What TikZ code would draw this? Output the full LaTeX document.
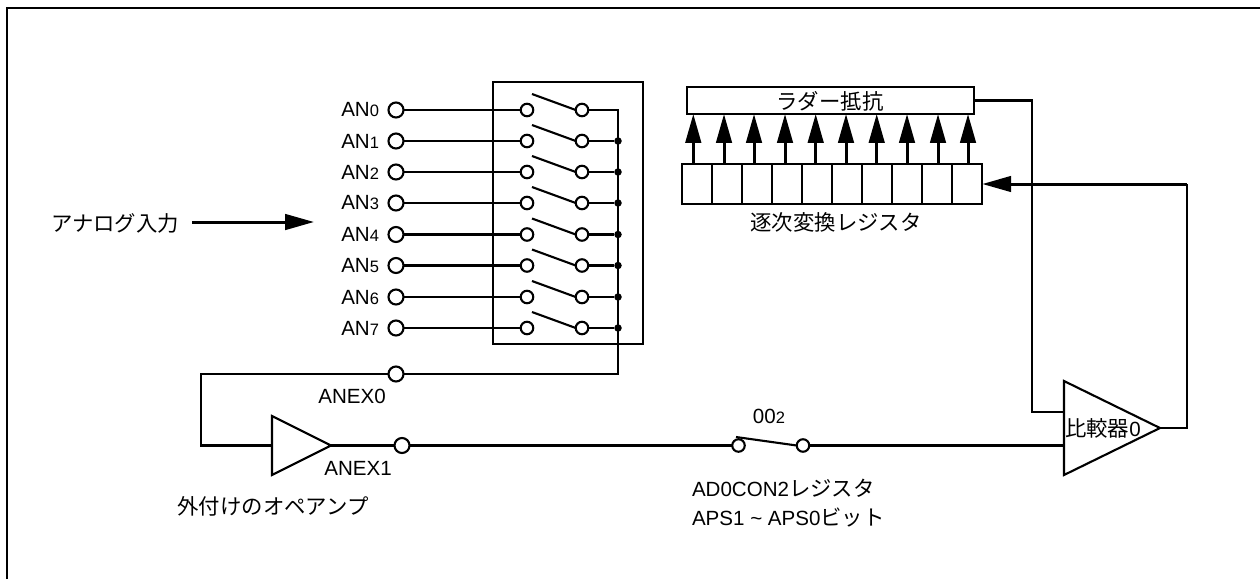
\documentclass[tikz,border=0pt]{standalone}
\usepackage{fontspec}
\setmainfont{Liberation Sans}
\newfontfamily\cjk[Scale=1.04]{Noto Sans CJK JP}
\usetikzlibrary{shapes.geometric, arrows.meta, positioning, calc}
\newcommand{\lowdigit}[1]{{\fontsize{9.4}{10}\selectfont #1}}

\begin{document}
\begin{tikzpicture}[
    x=0.02cm, y=-0.02cm,
    every node/.style={inner sep=0pt, outer sep=0pt},
    every text node part/.style={align=left},
    label/.style={font=\fontsize{11.7}{16}\selectfont},
    wire/.style={draw=black, line width=1.2pt},
    frameline/.style={draw=black, line width=1.6pt},
    term/.style={circle, draw=black, line width=1.2pt, fill=white, minimum size=0.3cm},
    swpin/.style={circle, draw=black, line width=1.2pt, fill=white, minimum size=0.25cm},
    dot/.style={circle, fill=black, minimum size=0.15cm},
    blockbox/.style={draw=black, line width=1.2pt, fill=white},
    cell/.style={blockbox, minimum width=0.6cm, minimum height=0.8cm},
    tapearrow/.style={wire, line width=1.7pt, -{Triangle[length=16.4pt, width=8.8pt]}},
    amp/.style={isosceles triangle, isosceles triangle stretches, shape border rotate=0, draw=black, line width=1.2pt, fill=white}
]
\useasboundingbox (0,0) rectangle (1260,579);

% Frame
\draw[frameline] (7,579) -- (7,8) -- (1260,8);

% Analog input
\node[label] (inlabel) at (115,223) {\cjk アナログ入力};
\coordinate (instart) at (192,222);
\coordinate (inend) at (314,222);
\draw[tapearrow] (instart) -- (inend);

% Switch box
\node[blockbox, minimum width=3cm, minimum height=5.24cm] (swbox) at (568,213) {};

% AN0
\node[label, anchor=east] (an0label) at (379,110) {AN\lowdigit{0}};
\node[term] (an0) at (396,110) {};
\node[swpin] (sw0l) at (527,110) {};
\node[swpin] (sw0r) at (582,110) {};
\coordinate (sw0b) at (532,94);
\draw[wire] (an0) -- (sw0l);
\draw[wire] (sw0b) -- (sw0r.west);

% AN1
\node[label, anchor=east] (an1label) at (379,141) {AN\lowdigit{1}};
\node[term] (an1) at (396,141) {};
\node[swpin] (sw1l) at (527,141) {};
\node[swpin] (sw1r) at (582,141) {};
\node[dot] (dot1) at (618,141) {};
\coordinate (sw1b) at (532,125);
\draw[wire] (an1) -- (sw1l);
\draw[wire] (sw1b) -- (sw1r.west);
\draw[wire] (sw1r) -- (dot1);

% AN2
\node[label, anchor=east] (an2label) at (379,172) {AN\lowdigit{2}};
\node[term] (an2) at (396,172) {};
\node[swpin] (sw2l) at (527,172) {};
\node[swpin] (sw2r) at (582,172) {};
\node[dot] (dot2) at (618,172) {};
\coordinate (sw2b) at (532,156);
\draw[wire] (an2) -- (sw2l);
\draw[wire] (sw2b) -- (sw2r.west);
\draw[wire] (sw2r) -- (dot2);

% AN3
\node[label, anchor=east] (an3label) at (379,203) {AN\lowdigit{3}};
\node[term] (an3) at (396,203) {};
\node[swpin] (sw3l) at (527,203) {};
\node[swpin] (sw3r) at (582,203) {};
\node[dot] (dot3) at (618,203) {};
\coordinate (sw3b) at (532,187);
\draw[wire] (an3) -- (sw3l);
\draw[wire] (sw3b) -- (sw3r.west);
\draw[wire] (sw3r) -- (dot3);

% AN4
\node[label, anchor=east] (an4label) at (379,234.5) {AN\lowdigit{4}};
\node[term] (an4) at (396,234.5) {};
\node[swpin] (sw4l) at (527,234.5) {};
\node[swpin] (sw4r) at (582,234.5) {};
\node[dot] (dot4) at (618,234.5) {};
\coordinate (sw4b) at (532,218.5);
\draw[wire] (an4) -- (sw4l);
\draw[wire] (sw4b) -- (sw4r.west);
\draw[wire] (sw4r) -- (dot4);

% AN5
\node[label, anchor=east] (an5label) at (379,265.5) {AN\lowdigit{5}};
\node[term] (an5) at (396,265.5) {};
\node[swpin] (sw5l) at (527,265.5) {};
\node[swpin] (sw5r) at (582,265.5) {};
\node[dot] (dot5) at (618,265.5) {};
\coordinate (sw5b) at (532,249.5);
\draw[wire] (an5) -- (sw5l);
\draw[wire] (sw5b) -- (sw5r.west);
\draw[wire] (sw5r) -- (dot5);

% AN6
\node[label, anchor=east] (an6label) at (379,297) {AN\lowdigit{6}};
\node[term] (an6) at (396,297) {};
\node[swpin] (sw6l) at (527,297) {};
\node[swpin] (sw6r) at (582,297) {};
\node[dot] (dot6) at (618,297) {};
\coordinate (sw6b) at (532,281);
\draw[wire] (an6) -- (sw6l);
\draw[wire] (sw6b) -- (sw6r.west);
\draw[wire] (sw6r) -- (dot6);

% AN7
\node[label, anchor=east] (an7label) at (379,328) {AN\lowdigit{7}};
\node[term] (an7) at (396,328) {};
\node[swpin] (sw7l) at (527,328) {};
\node[swpin] (sw7r) at (582,328) {};
\node[dot] (dot7) at (618,328) {};
\coordinate (sw7b) at (532,312);
\draw[wire] (an7) -- (sw7l);
\draw[wire] (sw7b) -- (sw7r.west);
\draw[wire] (sw7r) -- (dot7);

% ANEX0 and the loop to the op-amp
\node[term] (anex0) at (396,374) {};
\node[label] (anex0label) at (352,396) {ANEX0};
\coordinate (busend) at (618,374);
\coordinate (loopcorner) at (201,374);
\node[amp, anchor=lower side, minimum width=1.18cm, minimum height=1.18cm] (opamp) at (272,445.5) {};
\draw[wire] (sw0r) -| (busend) -- (anex0);
\draw[wire] (anex0) -- (loopcorner) |- (opamp.lower side);

% ANEX1 and the external op-amp
\node[term] (anex1) at (402,445.5) {};
\node[label] (anex1label) at (358,468) {ANEX1};
\node[label] (opamplabel) at (273,506) {\cjk 外付けのオペアンプ};
\draw[wire] (opamp.apex) -- (anex1);

% Selector switch
\node[swpin] (selL) at (738.5,445.5) {};
\node[swpin] (selR) at (803,445.5) {};
\coordinate (selB) at (736,437);
\node[label] (sellabel) at (769,416) {00\lowdigit{2}};
\node[label, anchor=west] (reglabel) at (692,488.5) {AD0CON2{\cjk レジスタ}};
\node[label, anchor=west] (bitlabel) at (692,517) {APS1 \textasciitilde{} APS0{\cjk ビット}};
\draw[wire] (anex1) -- (selL);
\draw[wire] (selB) -- (selR.west);

% Comparator
\node[amp, anchor=lower side, minimum width=1.88cm, minimum height=1.92cm] (cmp) at (1064,428) {};
\node[label] (cmplabel) at (1103,428) {\cjk 比較器{\fontspec{Liberation Sans}0}};
\draw[wire] (selR) -- (selR -| cmp.lower side);

% Ladder resistor
\node[blockbox, minimum width=5.74cm, minimum height=0.54cm] (ladder) at (830.5,100.5) {};
\node[label] (ladderlabel) at (830,101) {\cjk ラダー抵抗};
\coordinate (ladcorner) at (1032,100.5);
\coordinate (cmpin) at (1032,412);
\draw[wire] (ladder.east) -- (ladcorner) -- (cmpin) -- (cmpin -| cmp.lower side);

% Successive approximation register
\node[cell] (reg0) at (697.3,184) {};
\node[cell] (reg1) at (727.3,184) {};
\node[cell] (reg2) at (757.3,184) {};
\node[cell] (reg3) at (787.3,184) {};
\node[cell] (reg4) at (817.3,184) {};
\node[cell] (reg5) at (847.3,184) {};
\node[cell] (reg6) at (877.3,184) {};
\node[cell] (reg7) at (907.3,184) {};
\node[cell] (reg8) at (937.3,184) {};
\node[cell] (reg9) at (967.3,184) {};
\node[label] (reglabeltop) at (836,222) {\cjk 逐次変換レジスタ};

% Register outputs
\coordinate (tap0) at (693.3,164); \draw[tapearrow] (tap0) -- (tap0 |- ladder.south);
\coordinate (tap1) at (724,164); \draw[tapearrow] (tap1) -- (tap1 |- ladder.south);
\coordinate (tap2) at (754,164); \draw[tapearrow] (tap2) -- (tap2 |- ladder.south);
\coordinate (tap3) at (785,164); \draw[tapearrow] (tap3) -- (tap3 |- ladder.south);
\coordinate (tap4) at (815.7,164); \draw[tapearrow] (tap4) -- (tap4 |- ladder.south);
\coordinate (tap5) at (846,164); \draw[tapearrow] (tap5) -- (tap5 |- ladder.south);
\coordinate (tap6) at (876.7,164); \draw[tapearrow] (tap6) -- (tap6 |- ladder.south);
\coordinate (tap7) at (907,164); \draw[tapearrow] (tap7) -- (tap7 |- ladder.south);
\coordinate (tap8) at (938,164); \draw[tapearrow] (tap8) -- (tap8 |- ladder.south);
\coordinate (tap9) at (968,164); \draw[tapearrow] (tap9) -- (tap9 |- ladder.south);

% Comparator result back to the register
\coordinate (fbcorner) at (1187,184);
\draw[wire] (cmp.apex) -| (fbcorner);
\draw[tapearrow] (fbcorner) -- (reg9.east);

\end{tikzpicture}
\end{document}
